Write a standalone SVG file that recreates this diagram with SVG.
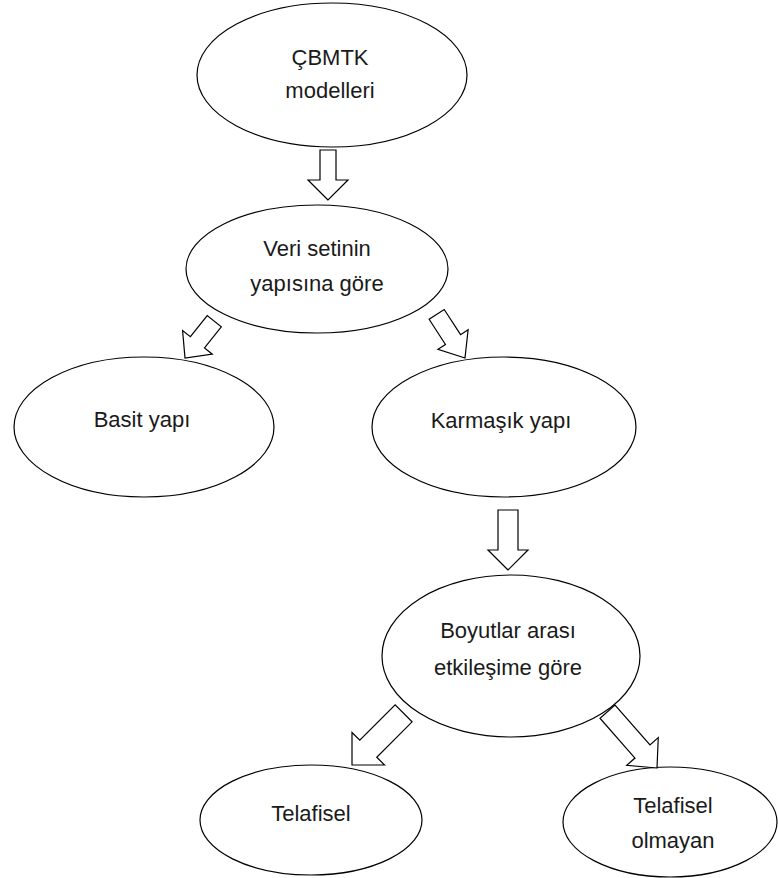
<svg xmlns="http://www.w3.org/2000/svg" width="778" height="878" viewBox="0 0 778 878">
<style>
.node ellipse{fill:#fff;stroke:#000;stroke-width:1.2}
.node text{font-family:"Liberation Sans",Arial,sans-serif;font-size:22px;fill:#1a1a1a;text-anchor:middle}
.arrow{fill:#fff;stroke:#000;stroke-width:1.2;stroke-linejoin:miter}
</style>
<rect width="778" height="878" fill="#fff"/>
<g id="n1" class="node"><ellipse cx="332" cy="75" rx="135" ry="72"/><text x="330" y="65">ÇBMTK</text><text x="330" y="98">modelleri</text></g>
<g id="n2" class="node"><ellipse cx="317" cy="269" rx="131" ry="64"/><text x="317" y="256">Veri setinin</text><text x="317" y="291">yapısına göre</text></g>
<g id="n3" class="node"><ellipse cx="144" cy="427" rx="130" ry="70"/><text x="142" y="427">Basit yapı</text></g>
<g id="n4" class="node"><ellipse cx="504" cy="427" rx="132" ry="70"/><text x="501" y="428">Karmaşık yapı</text></g>
<g id="n5" class="node"><ellipse cx="511" cy="656" rx="129" ry="81"/><text x="508" y="638">Boyutlar arası</text><text x="508" y="675">etkileşime göre</text></g>
<g id="n6" class="node"><ellipse cx="311" cy="820" rx="111" ry="55"/><text x="311" y="821">Telafisel</text></g>
<g id="n7" class="node"><ellipse cx="670" cy="822" rx="107" ry="55"/><text x="673" y="813">Telafisel</text><text x="673" y="848">olmayan</text></g>
<g id="connectors">
<polygon class="arrow" transform="translate(328,200)" points="0,0 -20,-20 -8,-20 -8,-50 8,-50 8,-20 20,-20"/>
<polygon class="arrow" transform="translate(185,358) rotate(38.5)" points="0,0 -19,-20 -9,-20 -9,-47 9,-47 9,-20 19,-20"/>
<polygon class="arrow" transform="translate(465,358) rotate(-33)" points="0,0 -18,-22 -9,-22 -9,-52 9,-52 9,-22 18,-22"/>
<polygon class="arrow" transform="translate(508,570)" points="0,0 -20,-20 -10,-20 -10,-60 10,-60 10,-20 20,-20"/>
<polygon class="arrow" transform="translate(352,765) rotate(45)" points="0,0 -23,-23 -12,-23 -12,-73 12,-73 12,-23 23,-23"/>
<polygon class="arrow" transform="translate(657,768) rotate(-41.3)" points="0,0 -21,-22 -10,-22 -10,-75 10,-75 10,-22 21,-22"/>
</g>
</svg>
